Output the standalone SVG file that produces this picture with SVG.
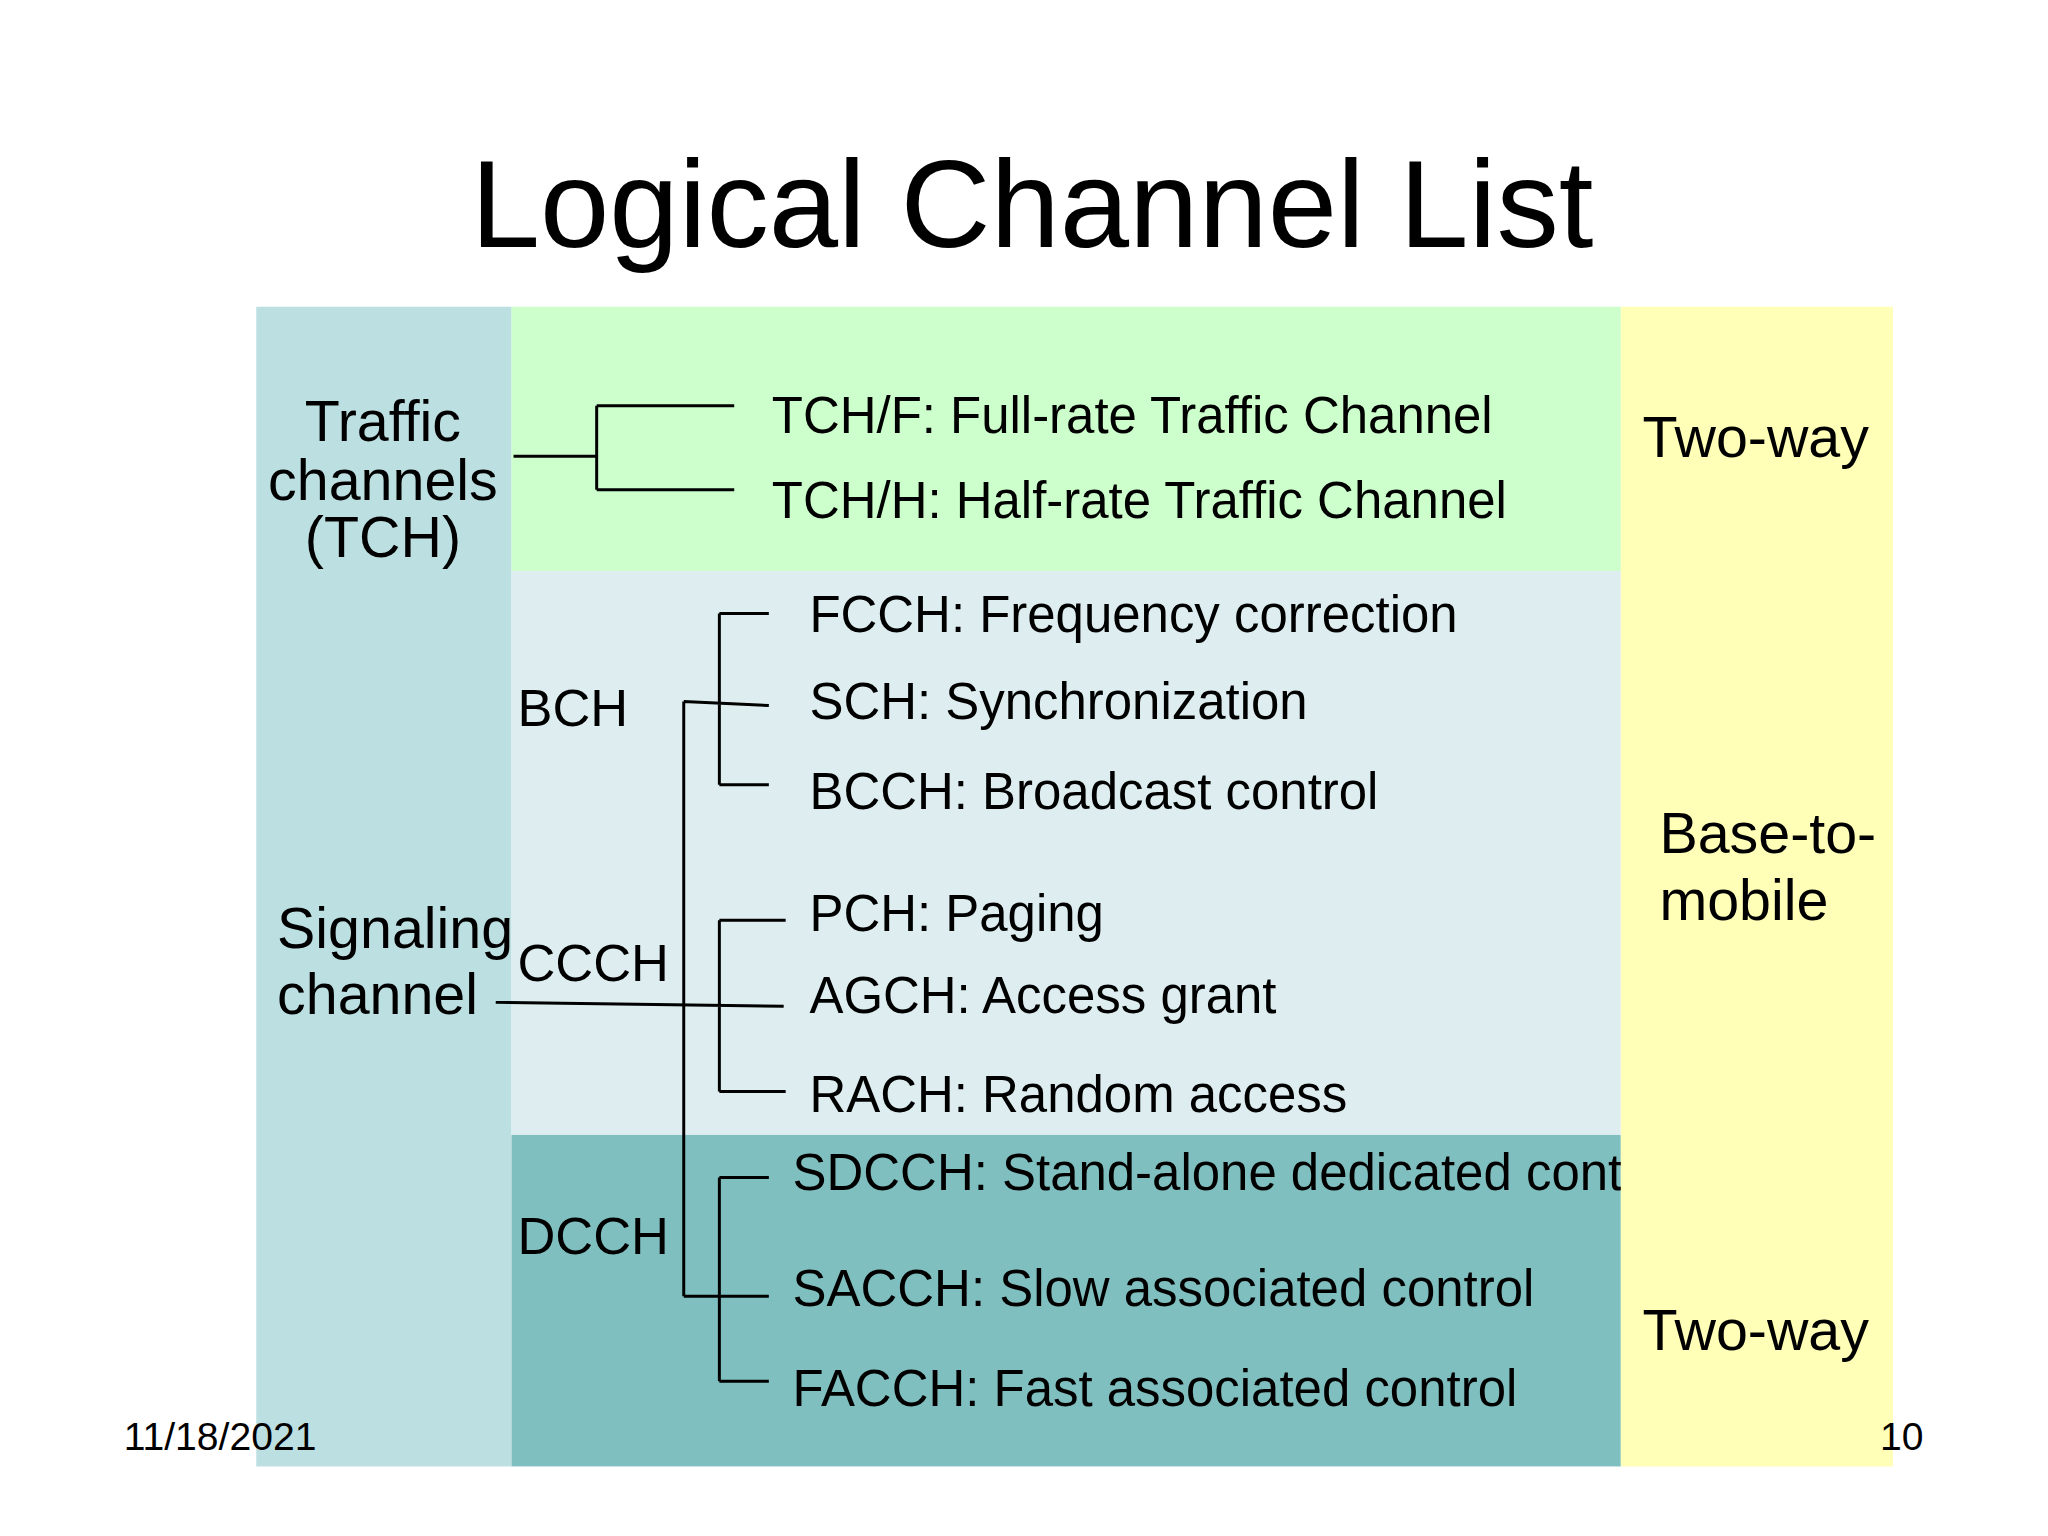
<svg xmlns="http://www.w3.org/2000/svg" width="2048" height="1536" viewBox="0 0 2048 1536">
<style>
text{font-family:"Liberation Sans",Arial,sans-serif;fill:#000}
.big{font-size:58px}
.it{font-size:51.5px}
.sm{font-size:39.5px}
.ln{stroke:#000;stroke-width:3;fill:none}
</style>
<rect width="2048" height="1536" fill="#fff"/>
<g transform="scale(0.9895)">
<text x="1043" y="250" font-size="126" text-anchor="middle">Logical Channel List</text>
<g id="bands">
<rect x="259" y="310" width="258" height="1172" fill="#bcdfe1"/>
<rect x="517" y="310" width="1121" height="267" fill="#ccffcc"/>
<rect x="517" y="577" width="1121" height="570" fill="#deeef0"/>
<rect x="517" y="1147" width="1121" height="335" fill="#80bfbf"/>
</g>
<g id="items">
<text class="it" x="780" y="438">TCH/F: Full-rate Traffic Channel</text>
<text class="it" x="780" y="523">TCH/H: Half-rate Traffic Channel</text>
<text class="it" x="818" y="639">FCCH: Frequency correction</text>
<text class="it" x="818" y="727">SCH: Synchronization</text>
<text class="it" x="818" y="818">BCCH: Broadcast control</text>
<text class="it" x="818" y="941">PCH: Paging</text>
<text class="it" x="818" y="1024">AGCH: Access grant</text>
<text class="it" x="818" y="1124">RACH: Random access</text>
<text class="it" x="801" y="1203">SDCCH: Stand-alone dedicated control</text>
<text class="it" x="801" y="1320">SACCH: Slow associated control</text>
<text class="it" x="801" y="1421">FACCH: Fast associated control</text>
</g>
<g id="direction">
<rect x="1638" y="310" width="275" height="1172" fill="#ffffb8"/>
<text class="big" x="1660" y="462">Two-way</text>
<text class="big" x="1677" y="862">Base-to-</text>
<text class="big" x="1677" y="930">mobile</text>
<text class="big" x="1660" y="1364">Two-way</text>
</g>
<g id="groups">
<text class="big" x="387" y="446" text-anchor="middle">Traffic</text>
<text class="big" x="387" y="505" text-anchor="middle">channels</text>
<text class="big" x="387" y="563" text-anchor="middle">(TCH)</text>
<text class="big" x="280" y="958">Signaling</text>
<text class="big" x="280" y="1025">channel</text>
<text x="523" y="734" font-size="53">BCH</text>
<text x="523" y="991" font-size="53">CCCH</text>
<text x="523" y="1267" font-size="53">DCCH</text>
</g>
<g id="connectors" class="ln">
<path d="M519 461H603M603 410V495M603 410H742M603 495H742"/>
<path d="M727 620V793M727 620H777M727 793H777M691 709L777 713M691 709V1310"/>
<path d="M727 930V1103M727 930H794M727 1103H794M501 1013L792 1017"/>
<path d="M727 1190V1396M727 1190H777M727 1396H777M691 1310H777"/>
</g>
<text class="sm" x="125" y="1465">11/18/2021</text>
<text class="sm" x="1900" y="1465">10</text>
</g>
</svg>
